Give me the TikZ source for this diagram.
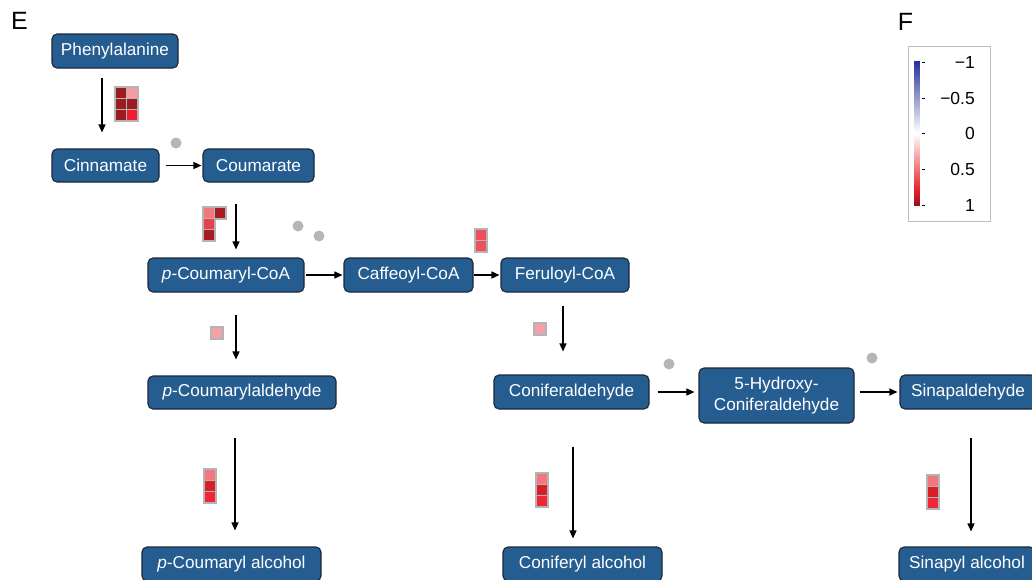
\documentclass[tikz,border=0pt]{standalone}
\usepackage{fontspec}
\setmainfont{Liberation Sans}
\usetikzlibrary{arrows.meta,calc}
\definecolor{nodeblue}{RGB}{37,93,145}
\definecolor{nodeedge}{RGB}{28,40,56}
\definecolor{heatgray}{RGB}{180,180,180}
\definecolor{dotgray}{RGB}{182,182,182}
\definecolor{hdark}{RGB}{158,26,33}
\definecolor{hdarkb}{RGB}{165,28,34}
\definecolor{hpink}{RGB}{242,158,164}
\definecolor{hpinkb}{RGB}{242,120,128}
\definecolor{hbright}{RGB}{238,30,46}
\definecolor{hmid}{RGB}{232,64,76}
\definecolor{hcoral}{RGB}{238,80,96}
\definecolor{hlight}{RGB}{242,162,168}
\definecolor{hred}{RGB}{216,30,38}
\definecolor{hred2}{RGB}{238,40,54}
\definecolor{legblue}{RGB}{38,48,150}
\definecolor{legred}{RGB}{228,30,38}
\definecolor{legdark}{RGB}{150,20,25}
\definecolor{legframe}{RGB}{190,190,190}
\newcommand\heatbg[2]{\fill[heatgray] (#1-2,#2-2) rectangle (#1+12,#2+12);}
\newcommand\heatcell[3]{\fill[#3] (#1,#2) rectangle (#1+10,#2+10);}
\tikzset{
  met/.style={draw=nodeedge, line width=1.1pt, fill=nodeblue, rounded corners=5pt,
    text=white, inner sep=0pt, align=center,
    font=\fontsize{17.2}{20.5}\selectfont},
  arr/.style={-{Triangle[length=8pt,width=7pt]}, line width=1.3pt, black},
  dot/.style={fill=dotgray},
  leglab/.style={anchor=east, inner sep=0pt, font=\fontsize{17.5}{20}\selectfont},
  panel/.style={inner sep=0pt, font=\fontsize{25}{28}\selectfont}
}
\begin{document}
\begin{tikzpicture}[x=1pt,y=-1pt]
\useasboundingbox (0,0) rectangle (1032,579);
% panel letters
\node[panel] (labE) at (19.5,21) {E};
\node[panel] (labF) at (905.5,22) {F};
% metabolite nodes
\node[met, minimum width=126pt, minimum height=34pt] (phe) at (115,51) {Phenylalanine};
\node[met, minimum width=107pt, minimum height=33pt] (cin) at (105.5,165.5) {Cinnamate};
\node[met, minimum width=111pt, minimum height=33pt] (cou) at (258.5,165.5) {Coumarate};
\node[met, minimum width=156pt, minimum height=34pt] (pcoa) at (226,275) {\textit{p}-Coumaryl-CoA};
\node[met, minimum width=129pt, minimum height=34pt] (caf) at (408.5,275) {Caffeoyl-CoA};
\node[met, minimum width=128pt, minimum height=34pt] (fer) at (565,275) {Feruloyl-CoA};
\node[met, minimum width=188pt, minimum height=33pt] (pald) at (242,392.5) {\textit{p}-Coumarylaldehyde};
\node[met, minimum width=155pt, minimum height=34pt] (cald) at (571.5,392) {Coniferaldehyde};
\node[met, minimum width=155pt, minimum height=55pt] (hyd) at (776.5,395.5) {5-Hydroxy-\\Coniferaldehyde};
\node[met, minimum width=136pt, minimum height=34pt] (sald) at (968,392) {Sinapaldehyde};
\node[met, minimum width=179pt, minimum height=34pt] (palc) at (231.5,564) {\textit{p}-Coumaryl alcohol};
\node[met, minimum width=159pt, minimum height=34pt] (calc) at (582.5,564) {Coniferyl alcohol};
\node[met, minimum width=136pt, minimum height=34pt] (salc) at (967,564) {Sinapyl alcohol};
% reactions
\draw[arr] ($(phe.south)+(-13,9)$) -- ($(cin.north)+(-3.5,-16)$);
\draw[arr] ($(cin.east)+(6,0)$) -- ($(cou.west)+(-1,0)$);
\draw[arr] ($(cou.south)+(-22.5,21)$) -- ($(pcoa.north)+(10,-8)$);
\draw[arr] ($(pcoa.east)+(1,0)$) -- ($(caf.west)+(-1,0)$);
\draw[arr] (caf.east) -- ($(fer.west)+(-1,0)$);
\draw[arr] ($(pcoa.south)+(10,22)$) -- ($(pald.north)+(-6,-16)$);
\draw[arr] ($(fer.south)+(-2,13)$) -- ($(cald.north)+(-8.5,-23)$);
\draw[arr] ($(cald.east)+(8,0)$) -- ($(cald.east -| hyd.west)+(-4,0)$);
\draw[arr] ($(sald.west -| hyd.east)+(5,0)$) -- ($(sald.west)+(-2,0)$);
\draw[arr] ($(pald.south)+(-7,28)$) -- ($(palc.north)+(3.5,-16)$);
\draw[arr] ($(cald.south)+(1.5,37)$) -- ($(calc.north)+(-9.5,-8)$);
\draw[arr] ($(sald.south)+(3,28)$) -- ($(salc.north)+(4,-15)$);
% heat boxes: backgrounds
\heatbg{116}{88}\heatbg{127}{88}\heatbg{116}{99}\heatbg{127}{99}\heatbg{116}{110}\heatbg{127}{110}
\heatbg{204}{208}\heatbg{215}{208}\heatbg{204}{219}\heatbg{204}{230}
\heatbg{476}{230}\heatbg{476}{241}
\heatbg{212}{328}
\heatbg{535}{324}
\heatbg{205}{470}\heatbg{205}{481}\heatbg{205}{492}
\heatbg{537}{474}\heatbg{537}{485}\heatbg{537}{496}
\heatbg{928}{476}\heatbg{928}{487}\heatbg{928}{498}
% heat boxes: cells
\heatcell{116}{88}{hdark}\heatcell{127}{88}{hpink}
\heatcell{116}{99}{hdark}\heatcell{127}{99}{hdark}
\heatcell{116}{110}{hdark}\heatcell{127}{110}{hbright}
\heatcell{204}{208}{hpinkb}\heatcell{215}{208}{hdarkb}
\heatcell{204}{219}{hmid}\heatcell{204}{230}{hdarkb}
\heatcell{476}{230}{hcoral}\heatcell{476}{241}{hcoral}
\heatcell{212}{328}{hlight}
\heatcell{535}{324}{hlight}
\heatcell{205}{470}{hpinkb}\heatcell{205}{481}{hred}\heatcell{205}{492}{hred2}
\heatcell{537}{474}{hpinkb}\heatcell{537}{485}{hred}\heatcell{537}{496}{hred2}
\heatcell{928}{476}{hpinkb}\heatcell{928}{487}{hred}\heatcell{928}{498}{hred2}
% grey dots
\fill[dot] (176,143) circle (5.5pt);
\fill[dot] (298,226) circle (5.5pt);
\fill[dot] (319,236) circle (5.5pt);
\fill[dot] (669,364) circle (5.5pt);
\fill[dot] (872,358) circle (5.5pt);
% legend
\draw[legframe, line width=0.9pt] (908,46) rectangle (990,221);
\foreach \i in {0,...,72}{
  \pgfmathtruncatemacro\p{100-\i*100/72}
  \fill[legblue!\p!white] (914,{61+\i}) rectangle (920,{62.3+\i});
}
\foreach \i in {0,...,58}{
  \pgfmathtruncatemacro\p{\i*100/58}
  \fill[legred!\p!white] (914,{133+\i}) rectangle (920,{134.3+\i});
}
\foreach \i in {0,...,14}{
  \pgfmathtruncatemacro\p{\i*100/14}
  \fill[legdark!\p!legred] (914,{191+\i}) rectangle (920,{192.3+\i});
}
\foreach \yy in {62,98,133,169,205}{
  \draw[line width=0.8pt] (921.5,\yy) -- (925,\yy);
}
\node[leglab] (l1) at (975,62) {−1};
\node[leglab] (l2) at (975,98) {−0.5};
\node[leglab] (l3) at (975,133) {0};
\node[leglab] (l4) at (975,169) {0.5};
\node[leglab] (l5) at (975,205) {1};
\end{tikzpicture}
\end{document}
